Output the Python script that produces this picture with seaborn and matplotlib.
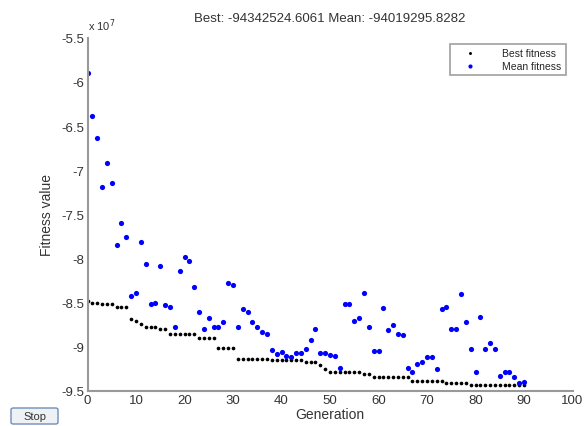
import matplotlib
matplotlib.use("Agg")
import matplotlib.pyplot as plt
import numpy as np
import pandas as pd
import seaborn as sns
from matplotlib.patches import FancyBboxPatch

# fitness per generation, in units of 1e7
generations = list(range(91))
best_fitness = [
    -8.48, -8.50, -8.50, -8.52, -8.52, -8.52, -8.55, -8.55, -8.55, -8.68,
    -8.71, -8.74, -8.78, -8.78, -8.78, -8.80, -8.80, -8.85, -8.85, -8.85,
    -8.85, -8.85, -8.85, -8.90, -8.90, -8.90, -8.90, -9.01, -9.01, -9.01,
    -9.01, -9.14, -9.14, -9.14, -9.14, -9.14, -9.14, -9.14, -9.15, -9.15,
    -9.15, -9.15, -9.15, -9.15, -9.15, -9.17, -9.17, -9.17, -9.21, -9.25,
    -9.29, -9.29, -9.29, -9.29, -9.29, -9.29, -9.29, -9.31, -9.31, -9.34,
    -9.34, -9.34, -9.34, -9.34, -9.34, -9.34, -9.34, -9.385, -9.385, -9.385,
    -9.385, -9.385, -9.385, -9.385, -9.41, -9.41, -9.41, -9.41, -9.41, -9.434,
    -9.434, -9.434, -9.434, -9.434, -9.434, -9.434, -9.434, -9.434, -9.434, -9.434,
    -9.434,
]
mean_fitness = [
    -5.90, -6.39, -6.63, -7.19, -6.92, -7.14, -7.85, -7.60, -7.76, -8.43,
    -8.39, -7.81, -8.06, -8.52, -8.50, -8.09, -8.53, -8.55, -8.78, -8.14,
    -7.98, -8.03, -8.32, -8.61, -8.80, -8.67, -8.77, -8.77, -8.72, -8.28,
    -8.30, -8.77, -8.57, -8.61, -8.72, -8.77, -8.83, -8.85, -9.04, -9.08,
    -9.06, -9.10, -9.11, -9.07, -9.07, -9.02, -8.92, -8.80, -9.07, -9.07,
    -9.09, -9.10, -9.24, -8.52, -8.52, -8.71, -8.67, -8.39, -8.77, -9.05,
    -9.05, -8.56, -8.81, -8.75, -8.85, -8.87, -9.24, -9.29, -9.19, -9.17,
    -9.11, -9.11, -9.25, -8.57, -8.55, -8.80, -8.80, -8.40, -8.72, -9.03,
    -9.28, -8.66, -9.03, -8.96, -9.03, -9.33, -9.29, -9.29, -9.34, -9.41,
    -9.40,
]
x_ticks = [0, 10, 20, 30, 40, 50, 60, 70, 80, 90, 100]
y_ticks = [-9.5, -9, -8.5, -8, -7.5, -7, -6.5, -6, -5.5]
title_text = "Best: -94342524.6061 Mean: -94019295.8282"

df = pd.DataFrame({"Generation": generations,
                   "Best fitness": best_fitness,
                   "Mean fitness": mean_fitness})

sns.set_style("white")
plt.rcParams["font.family"] = ["Liberation Sans", "DejaVu Sans"]

fig = plt.figure(figsize=(5.86, 4.27), dpi=100)
ax = fig.add_axes([87.5 / 586, 1 - 392 / 427, 485 / 586, (392 - 38.7) / 427])

sns.scatterplot(data=df, x="Generation", y="Best fitness", color="black",
                s=7, linewidth=0, label="Best fitness", ax=ax)
sns.scatterplot(data=df, x="Generation", y="Mean fitness", color="blue",
                s=14, linewidth=0, label="Mean fitness", ax=ax)

ax.set_xlim(0, 100)
ax.set_ylim(-9.5, -5.5)
ax.set_xticks(x_ticks)
ax.set_yticks(y_ticks)
ax.set_yticklabels(["%g" % t for t in y_ticks])
ax.tick_params(direction="in", length=4, width=0.8, colors="#888888",
               labelcolor="#333333", labelsize=9.5, pad=2)
for side in ["top", "right"]:
    ax.spines[side].set_visible(False)
for side in ["left", "bottom"]:
    ax.spines[side].set_color("#999999")
    ax.spines[side].set_linewidth(1.5)

ax.set_xlabel("Generation", fontsize=10, color="#333333", labelpad=1)
ax.set_ylabel("Fitness value", fontsize=10, color="#333333", labelpad=6)

leg = ax.legend(loc="upper right", bbox_to_anchor=(1.0 - 7 / 485, 1.0 - 6 / 353.3),
                fontsize=7.5, frameon=True, fancybox=False, markerscale=0.8,
                handlelength=3.0, handletextpad=1.6, borderpad=0.4,
                labelspacing=0.3, borderaxespad=0)
leg.get_frame().set_edgecolor("#888888")
leg.get_frame().set_linewidth(1.2)

fig.text(330 / 586, 1 - 19 / 427, title_text, ha="center", va="center",
         fontsize=9.5, color="#333333")
fig.text(88 / 586, 1 - 26 / 427, r"x 10$^7$", ha="left", va="center",
         fontsize=8, color="#333333")

# Stop button
btn = FancyBboxPatch((11 / 586, 1 - 425 / 427), 47 / 586, 16 / 427,
                     boxstyle="round,pad=0,rounding_size=0.004",
                     transform=fig.transFigure, facecolor="#eef1f5",
                     edgecolor="#6f8fb8", linewidth=1.0)
fig.patches.append(btn)
fig.text(34.5 / 586, 1 - 417 / 427, "Stop", ha="center", va="center",
         fontsize=8, color="#333333")

fig.savefig("out.png", dpi=100)
